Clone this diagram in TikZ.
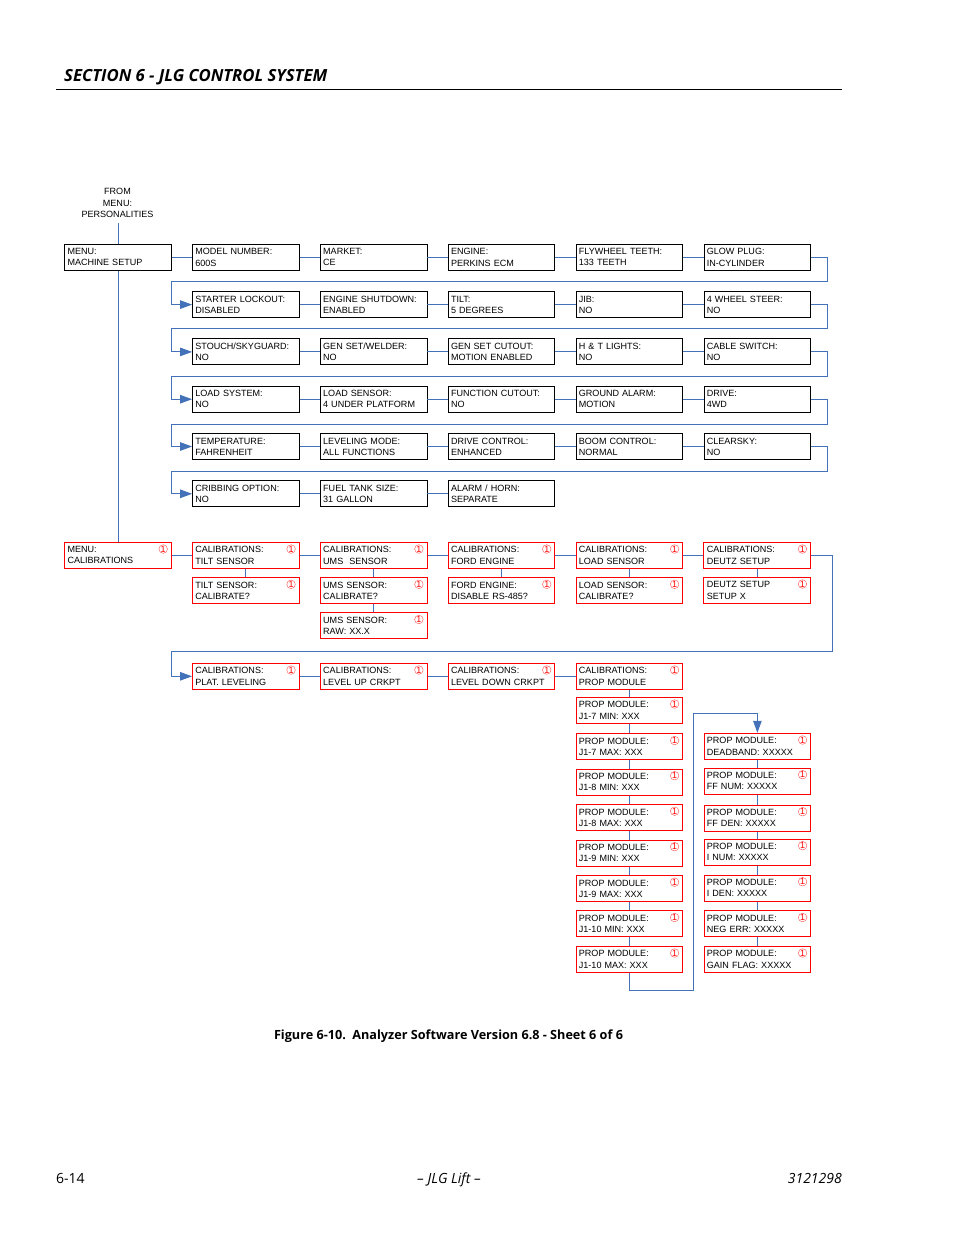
\documentclass[tikz,border=0pt]{standalone}
\usepackage{fontspec}
\setmainfont{Liberation Sans}
\newfontfamily\pagefont{Open Sans}
\usetikzlibrary{positioning}
\usetikzlibrary{arrows.meta}
\definecolor{linkblue}{HTML}{4472B8}
\tikzset{
  box/.style={draw=black,line width=0.9pt,minimum width=106.6pt,minimum height=26pt,text width=101pt,inner xsep=2.6pt,inner ysep=1pt,align=left,font=\fontsize{9.05}{11.2}\selectfont,execute at end node={\par\vskip2pt}},
  cal/.style={box,draw=red,line width=1pt,label={[flagmark]north east:1}},
  flagmark/.style={circle,draw=red!70,line width=0.4pt,text=red,inner sep=0pt,minimum size=8.6pt,anchor=center,xshift=-8.6pt,yshift=-7.2pt,font=\fontsize{9}{9}\selectfont},
  link/.style={draw=linkblue,line width=1pt},
  tip/.style={-{Triangle[length=12pt,width=8.5pt]}},
  pagetext/.style={inner sep=0pt,font=\pagefont\fontsize{12}{14}\selectfont}
}
\begin{document}
\begin{tikzpicture}[x=1pt,y=-1pt,node distance=47.3pt and 127.85pt,on grid]
   \useasboundingbox (0,0) rectangle (954,1235);
   % page head and foot
   \node[pagetext,anchor=base west,font=\pagefont\bfseries\itshape\fontsize{16.7}{18}\selectfont] (section) at (64,81) {SECTION 6 - JLG CONTROL SYSTEM};
   \coordinate (rulea) at (56,89.5);
   \coordinate (ruleb) at (842,89.5);
   \draw[line width=0.8pt] (rulea) -- (ruleb);
   \node[pagetext,anchor=base,font=\pagefont\bfseries\fontsize{12.65}{14}\selectfont] (caption) at (448.5,1039) {Figure 6-10.\ \ Analyzer Software Version 6.8 - Sheet 6 of 6};
   \node[pagetext,anchor=base west,font=\pagefont\fontsize{14}{16}\selectfont] (pageno) at (56,1183) {6-14};
   \node[pagetext,anchor=base,font=\pagefont\itshape\fontsize{14}{16}\selectfont] (maker) at (449,1183) {– JLG Lift –};
   \node[pagetext,anchor=base east,font=\pagefont\itshape\fontsize{14}{16}\selectfont] (partno) at (842,1183) {3121298};
   % machine setup
   \node[align=center,inner sep=0pt,font=\fontsize{9.05}{11.5}\selectfont] (from) at (117.5,203) {FROM\\MENU:\\PERSONALITIES};
   \coordinate (fromend) at (118,223);
   \node[box] (setup) at (118,257.3) {MENU:\\MACHINE SETUP};
   \node[box] (model) [right=of setup] {MODEL NUMBER:\\600S};
   \node[box] (market) [right=of model] {MARKET:\\CE};
   \node[box] (engine) [right=of market] {ENGINE:\\PERKINS ECM};
   \node[box] (flywheel) [right=of engine] {FLYWHEEL TEETH:\\133 TEETH};
   \node[box] (glow) [right=of flywheel] {GLOW PLUG:\\IN-CYLINDER};
   \node[box] (starter) [below=of model] {STARTER LOCKOUT:\\DISABLED};
   \node[box] (shutdown) [right=of starter] {ENGINE SHUTDOWN:\\ENABLED};
   \node[box] (tilt) [right=of shutdown] {TILT:\\5 DEGREES};
   \node[box] (jib) [right=of tilt] {JIB:\\NO};
   \node[box] (steer) [right=of jib] {4 WHEEL STEER:\\NO};
   \node[box] (stouch) [below=of starter] {STOUCH/SKYGUARD:\\NO};
   \node[box] (welder) [right=of stouch] {GEN SET/WELDER:\\NO};
   \node[box] (cutout) [right=of welder] {GEN SET CUTOUT:\\MOTION ENABLED};
   \node[box] (lights) [right=of cutout] {H \& T LIGHTS:\\NO};
   \node[box] (cable) [right=of lights] {CABLE SWITCH:\\NO};
   \node[box] (loadsys) [below=of stouch] {LOAD SYSTEM:\\NO};
   \node[box] (loadsen) [right=of loadsys] {LOAD SENSOR:\\4 UNDER PLATFORM};
   \node[box] (function) [right=of loadsen] {FUNCTION CUTOUT:\\NO};
   \node[box] (ground) [right=of function] {GROUND ALARM:\\MOTION};
   \node[box] (drive) [right=of ground] {DRIVE:\\4WD};
   \node[box] (temp) [below=of loadsys] {TEMPERATURE:\\FAHRENHEIT};
   \node[box] (level) [right=of temp] {LEVELING MODE:\\ALL FUNCTIONS};
   \node[box] (control) [right=of level] {DRIVE CONTROL:\\ENHANCED};
   \node[box] (boom) [right=of control] {BOOM CONTROL:\\NORMAL};
   \node[box] (clear) [right=of boom] {CLEARSKY:\\NO};
   \node[box] (crib) [below=of temp] {CRIBBING OPTION:\\NO};
   \node[box] (fuel) [right=of crib] {FUEL TANK SIZE:\\31 GALLON};
   \node[box] (alarm) [right=of fuel] {ALARM / HORN:\\SEPARATE};
   % calibrations
   \node[cal] (caltilt) [below=61.5pt of crib] {CALIBRATIONS:\\TILT SENSOR};
   \node[cal] (calmenu) [left=of caltilt] {MENU:\\CALIBRATIONS};
   \node[cal] (calums) [right=of caltilt] {CALIBRATIONS:\\UMS\ \ SENSOR};
   \node[cal] (calford) [right=of calums] {CALIBRATIONS:\\FORD ENGINE};
   \node[cal] (calload) [right=of calford] {CALIBRATIONS:\\LOAD SENSOR};
   \node[cal] (caldeutz) [right=of calload] {CALIBRATIONS:\\DEUTZ SETUP};
   \node[cal] (tiltcal) [below=35.3pt of caltilt] {TILT SENSOR:\\CALIBRATE?};
   \node[cal] (umscal) [below=35.3pt of calums] {UMS SENSOR:\\CALIBRATE?};
   \node[cal] (umsraw) [below=35.2pt of umscal] {UMS SENSOR:\\RAW: XX.X};
   \node[cal] (forddis) [below=35.3pt of calford] {FORD ENGINE:\\DISABLE RS-485?};
   \node[cal] (loadcal) [below=35.3pt of calload] {LOAD SENSOR:\\CALIBRATE?};
   \node[cal] (deutzset) [below=35pt of caldeutz] {DEUTZ SETUP\\SETUP X};
   \node[cal] (calplat) [below=121pt of caltilt] {CALIBRATIONS:\\PLAT. LEVELING};
   \node[cal] (calup) [right=of calplat] {CALIBRATIONS:\\LEVEL UP CRKPT};
   \node[cal] (caldown) [right=of calup] {CALIBRATIONS:\\LEVEL DOWN CRKPT};
   \node[cal] (calprop) [right=of caldown] {CALIBRATIONS:\\PROP MODULE};
   % prop module
   \node[cal] (sevenmin) [below=34pt of calprop] {PROP MODULE:\\J1-7 MIN: XXX};
   \node[cal] (sevenmax) [below=36.5pt of sevenmin] {PROP MODULE:\\J1-7 MAX: XXX};
   \node[cal] (eightmin) [below=35.2pt of sevenmax] {PROP MODULE:\\J1-8 MIN: XXX};
   \node[cal] (eightmax) [below=35.5pt of eightmin] {PROP MODULE:\\J1-8 MAX: XXX};
   \node[cal] (ninemin) [below=35.5pt of eightmax] {PROP MODULE:\\J1-9 MIN: XXX};
   \node[cal] (ninemax) [below=35.5pt of ninemin] {PROP MODULE:\\J1-9 MAX: XXX};
   \node[cal] (tenmin) [below=35.3pt of ninemax] {PROP MODULE:\\J1-10 MIN: XXX};
   \node[cal] (tenmax) [below=35.5pt of tenmin] {PROP MODULE:\\J1-10 MAX: XXX};
   \node[cal] (deadband) at (757.4,746.3) {PROP MODULE:\\DEADBAND: XXXXX};
   \node[cal] (ffnum) [below=34.7pt of deadband] {PROP MODULE:\\FF NUM: XXXXX};
   \node[cal] (ffden) [below=37pt of ffnum] {PROP MODULE:\\FF DEN: XXXXX};
   \node[cal] (inum) [below=34pt of ffden] {PROP MODULE:\\I NUM: XXXXX};
   \node[cal] (iden) [below=36pt of inum] {PROP MODULE:\\I DEN: XXXXX};
   \node[cal] (negerr) [below=35.8pt of iden] {PROP MODULE:\\NEG ERR: XXXXX};
   \node[cal] (gain) [below=35.5pt of negerr] {PROP MODULE:\\GAIN FLAG: XXXXX};
   % links
   \draw[link] (fromend) -- (setup);
   \draw[link] (setup) -- (calmenu);
   \draw[link] (setup) -- (model) -- (market) -- (engine) -- (flywheel) -- (glow);
   \draw[link] (starter) -- (shutdown) -- (tilt) -- (jib) -- (steer);
   \draw[link] (stouch) -- (welder) -- (cutout) -- (lights) -- (cable);
   \draw[link] (loadsys) -- (loadsen) -- (function) -- (ground) -- (drive);
   \draw[link] (temp) -- (level) -- (control) -- (boom) -- (clear);
   \draw[link] (crib) -- (fuel) -- (alarm);
   \draw[link,tip] (glow) -| (827,281) -- (171.5,281) |- (starter);
   \draw[link,tip] (steer) -| (827,328.5) -- (171.5,328.5) |- (stouch);
   \draw[link,tip] (cable) -| (827,376) -- (171.5,376) |- (loadsys);
   \draw[link,tip] (drive) -| (827,424) -- (171.5,424) |- (temp);
   \draw[link,tip] (clear) -| (827,471) -- (171.5,471) |- (crib);
   \draw[link] (calmenu) -- (caltilt) -- (calums) -- (calford) -- (calload) -- (caldeutz);
   \draw[link] (caltilt) -- (tiltcal);
   \draw[link] (calums) -- (umscal) -- (umsraw);
   \draw[link] (calford) -- (forddis);
   \draw[link] (calload) -- (loadcal);
   \draw[link] (caldeutz) -- (deutzset);
   \draw[link,tip] (caldeutz) -| (832.5,651) -- (171.5,651) |- (calplat);
   \draw[link] (calplat) -- (calup) -- (caldown) -- (calprop);
   \draw[link] (calprop) -- (sevenmin) -- (sevenmax) -- (eightmin) -- (eightmax) -- (ninemin) -- (ninemax) -- (tenmin) -- (tenmax);
   \draw[link] (deadband) -- (ffnum) -- (ffden) -- (inum) -- (iden) -- (negerr) -- (gain);
   \draw[link,tip] (tenmax) |- (693.5,990) -- (693.5,713) -| (deadband);
 \end{tikzpicture}
\end{document}
